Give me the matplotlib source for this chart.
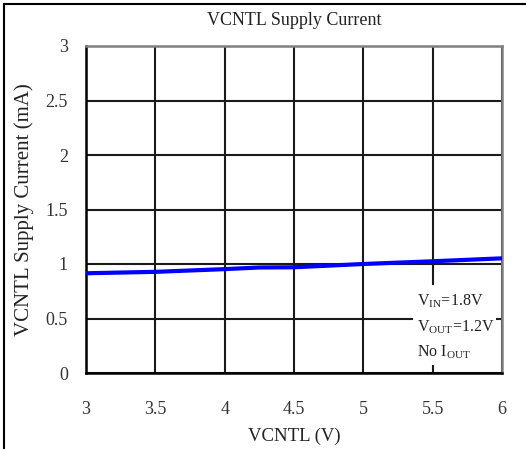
import matplotlib
matplotlib.use("Agg")
import matplotlib.pyplot as plt
from matplotlib.patches import Rectangle
from matplotlib.lines import Line2D

# 数据
vcntl = [3.0, 3.5, 4.0, 4.25, 4.5, 5.0, 5.5, 6.0]
current = [0.915, 0.928, 0.953, 0.968, 0.970, 1.0, 1.025, 1.052]
x_ticks = [3, 3.5, 4, 4.5, 5, 5.5, 6]
y_ticks = [0, 0.5, 1, 1.5, 2, 2.5, 3]
notes = [r"V$_{\mathregular{IN}}$=1.8V", r"V$_{\mathregular{OUT}}$=1.2V", r"No I$_{\mathregular{OUT}}$"]


def main():
    plt.rcParams["font.family"] = ["Liberation Serif", "DejaVu Serif"]
    plt.rcParams["mathtext.fontset"] = "custom"
    plt.rcParams["mathtext.rm"] = "Liberation Serif"

    fig = plt.figure(figsize=(5.26, 4.49), dpi=100)
    ax = fig.add_axes([86 / 526, 76 / 449, 416 / 526, 327 / 449])

    ax.set_xlim(3, 6)
    ax.set_ylim(0, 3)
    ax.set_xticks(x_ticks)
    ax.set_yticks(y_ticks)
    ax.set_xticklabels([f"{t:g}" for t in x_ticks])
    ax.set_yticklabels([f"{t:g}" for t in y_ticks])
    ax.tick_params(length=0, labelsize=13, labelcolor="#333333")
    ax.tick_params(axis="x", pad=20)
    ax.tick_params(axis="y", pad=13)

    # 网格
    ax.grid(True, color="#1a1a1a", linewidth=1.5)
    ax.set_axisbelow(True)
    for s in ["left", "bottom"]:
        ax.spines[s].set_color("black")
        ax.spines[s].set_linewidth(1.8)
    for s in ["right", "top"]:
        ax.spines[s].set_color("#808080")
        ax.spines[s].set_linewidth(1.8)

    ax.plot(vcntl, current, color="#0000ff", linewidth=3, zorder=3)

    # 注释框
    ax.add_patch(Rectangle((5.36, 0.07), 0.6, 0.74, facecolor="white",
                           edgecolor="none", zorder=2.5))
    for i, t in enumerate(notes):
        ax.text(5.39, 0.66 - i * 0.235, t, fontsize=11.5, va="center",
                ha="left", zorder=4, color="#222222")

    ax.set_title("VCNTL Supply Current", fontsize=13, pad=15, color="#222222")
    ax.set_xlabel("VCNTL (V)", fontsize=13.5, labelpad=7, color="#222222")
    ax.set_ylabel("VCNTL Supply Current (mA)", fontsize=15, labelpad=8,
                  color="#222222")

    # 外框 (左和上)
    fig.add_artist(Line2D([4 / 526, 4 / 526], [0, 1 - 4 / 449], color="black",
                          linewidth=1.5, transform=fig.transFigure))
    fig.add_artist(Line2D([4 / 526, 1], [1 - 4 / 449, 1 - 4 / 449], color="black",
                          linewidth=1.5, transform=fig.transFigure))

    fig.savefig("out.png", dpi=100)


if __name__ == "__main__":
    main()
